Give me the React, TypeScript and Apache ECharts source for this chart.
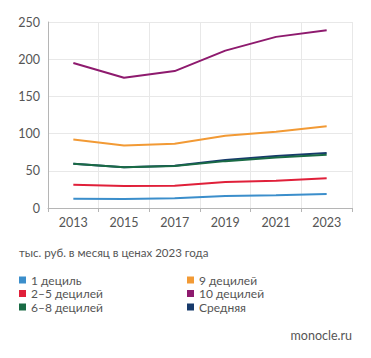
import React, { useEffect, useRef } from "react";
import * as echarts from "echarts";

const years = ["2013", "2015", "2017", "2019", "2021", "2023"];
const decile1 = [12.5, 12, 13, 16, 17, 18.8];
const decile2to5 = [31.4, 29.6, 30, 35, 36.7, 40];
const decile6to8 = [59.6, 54.7, 56.5, 63, 68, 71.7];
const decile9 = [92, 84, 86.5, 97, 102.6, 110];
const decile10 = [195, 175, 184, 211.5, 230, 239];
const average = [59.6, 54.9, 56.8, 64.5, 70, 74];
const yTicks = [0, 50, 100, 150, 200, 250];

const FONT = "Lato, 'Open Sans', sans-serif";

export default function App() {
  const ref = useRef<HTMLDivElement>(null);
  useEffect(() => {
    if (!ref.current) return;
    const chart = echarts.init(ref.current, undefined, { renderer: "svg" });
    const mk = (name: string, data: number[], color: string) => ({
      name,
      type: "line",
      data,
      symbol: "none",
      lineStyle: { color, width: 2 },
      itemStyle: { color },
    });
    const legendText = { color: "#555", fontSize: 12, lineHeight: 12, fontFamily: FONT };
    chart.setOption({
      animation: false,
      backgroundColor: "#fff",
      textStyle: { fontFamily: FONT },
      grid: { left: 48, right: 19, top: 22, bottom: 150, containLabel: false },
      xAxis: {
        type: "category",
        data: years,
        boundaryGap: true,
        axisLine: { lineStyle: { color: "#b5b5b5" } },
        axisTick: { show: true, length: 4, lineStyle: { color: "#b5b5b5" } },
        axisLabel: { color: "#555", fontSize: 12.5, margin: 8, fontFamily: FONT },
        splitLine: { show: true, lineStyle: { color: "#e8e8e8" } },
      },
      yAxis: {
        type: "value",
        min: yTicks[0],
        max: yTicks[yTicks.length - 1],
        interval: 50,
        axisLine: { show: true, lineStyle: { color: "#b5b5b5" } },
        axisTick: { show: false },
        axisLabel: { color: "#555", fontSize: 12.5, margin: 8, fontFamily: FONT },
        splitLine: { show: true, lineStyle: { color: "#e8e8e8" } },
      },
      legend: [
        {
          orient: "vertical",
          left: 14,
          top: 274,
          padding: [0, 5],
          itemWidth: 7,
          itemHeight: 7,
          itemGap: 1.5,
          icon: "rect",
          textStyle: legendText,
          data: ["1 дециль", "2–5 децилей", "6–8 децилей"],
        },
        {
          orient: "vertical",
          left: 182,
          top: 274,
          padding: [0, 5],
          itemWidth: 7,
          itemHeight: 7,
          itemGap: 1.5,
          icon: "rect",
          textStyle: legendText,
          data: ["9 децилей", "10 децилей", "Средняя"],
        },
      ],
      graphic: [
        {
          type: "text",
          left: 19,
          top: 246,
          style: { text: "тыс. руб. в месяц в ценах 2023 года", fill: "#555", fontSize: 11.5, fontFamily: FONT },
        },
        {
          type: "text",
          right: 19,
          top: 329,
          style: { text: "monocle.ru", fill: "#555", fontSize: 12.5, fontFamily: FONT },
        },
      ],
      series: [
        mk("1 дециль", decile1, "#3b8ecb"),
        mk("2–5 децилей", decile2to5, "#e0203a"),
        mk("Средняя", average, "#173a6b"),
        mk("6–8 децилей", decile6to8, "#1a6b45"),
        mk("9 децилей", decile9, "#f29a35"),
        mk("10 децилей", decile10, "#8e1a6e"),
      ],
    });
    return () => chart.dispose();
  }, []);
  return (
    <div
      ref={ref}
      style={{ position: "fixed", left: 0, top: 0, width: 371, height: 358 }}
    />
  );
}
